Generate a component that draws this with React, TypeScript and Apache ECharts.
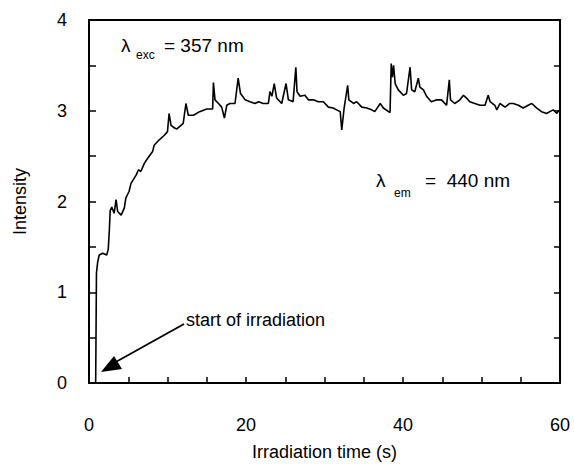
import React, { useEffect, useRef } from "react";
import * as echarts from "echarts";

const times: number[] = [
  0, 0.85, 0.9, 0.95, 1.1, 1.3, 1.75, 2.25, 2.45, 2.6, 2.7, 2.9, 3.2, 3.45, 3.65, 4.1, 4.5, 4.7, 5.1, 5.35,
  6.0, 6.3, 6.6, 7.05, 7.5, 8.1, 8.3, 8.95, 9.6, 10.0, 10.2, 10.45, 10.9, 11.2, 12.0, 12.35, 12.65, 13.3, 14.1, 15.0,
  15.75, 15.85, 16.05, 16.5, 16.9, 17.25, 17.55, 17.95, 18.6, 19.0, 19.3, 19.9, 20.5, 21.15, 21.6, 22.2, 22.85, 23.05, 23.3, 23.6,
  23.9, 24.55, 25.1, 25.4, 26.0, 26.35, 26.5, 26.9, 27.5, 27.95, 28.6, 29.2, 29.85, 30.5, 31.1, 31.55, 32.0, 32.2, 32.5, 32.95,
  33.1, 33.7, 34.1, 34.75, 35.4, 36.0, 36.4, 37.1, 37.5, 38.35, 38.5, 38.65, 38.8, 39.0, 39.4, 40.05, 40.45, 40.9, 41.1, 41.5,
  41.95, 42.15, 42.6, 43.0, 43.6, 44.3, 44.9, 45.55, 45.9, 46.05, 46.6, 47.25, 47.7, 48.1, 48.5, 49.15, 49.8, 50.45, 50.85, 51.1,
  51.7, 51.95, 52.35, 53.0, 53.6, 54.05, 54.7, 55.3, 55.95, 56.4, 57.05, 57.65, 58.3, 58.7, 59.15, 59.6, 59.8, 60,
];

const intensity: number[] = [
  0, 0, 0.6, 1.21, 1.33, 1.41, 1.43, 1.41, 1.47, 1.7, 1.9, 1.94, 1.87, 2.02, 1.89, 1.85, 1.93, 2.04, 2.11, 2.2,
  2.29, 2.35, 2.33, 2.42, 2.48, 2.55, 2.62, 2.68, 2.73, 2.77, 2.97, 2.84, 2.81, 2.8, 2.86, 3.08, 2.95, 2.95, 2.99, 3.02,
  3.02, 3.31, 3.12, 3.08, 3.04, 2.92, 3.06, 3.08, 3.08, 3.36, 3.19, 3.12, 3.1, 3.08, 3.1, 3.08, 3.08, 3.21, 3.16, 3.3,
  3.14, 3.08, 3.3, 3.12, 3.1, 3.48, 3.21, 3.16, 3.17, 3.12, 3.12, 3.1, 3.1, 3.04, 3.03, 3.01, 2.99, 2.79, 3.03, 3.28,
  3.12, 3.08, 3.1, 3.04, 3.03, 3.01, 2.99, 3.08, 3.03, 2.98, 3.52, 3.37, 3.5, 3.3, 3.23, 3.17, 3.19, 3.48, 3.23, 3.21,
  3.36, 3.26, 3.23, 3.16, 3.1, 3.12, 3.12, 3.06, 3.34, 3.12, 3.08, 3.12, 3.17, 3.14, 3.1, 3.08, 3.06, 3.06, 3.17, 3.1,
  3.06, 3.01, 3.08, 3.04, 3.08, 3.08, 3.06, 3.03, 3.06, 3.08, 3.03, 2.99, 2.97, 2.99, 3.01, 2.97, 3.0, 3.0,
];

const xLabeledTicks: number[] = [0, 20, 40, 60];
const yLabeledTicks: number[] = [0, 1, 2, 3, 4];

const FONT = "'Liberation Sans', Arial, Helvetica, sans-serif";

export default function App() {
  const ref = useRef<HTMLDivElement>(null);
  useEffect(() => {
    if (!ref.current) return;
    const chart = echarts.init(ref.current, undefined, { renderer: "svg" });
    const data = times.map((t, i) => [t, intensity[i]]);
    const txt = (x: number, y: number, text: string, size: number, align = "left") => ({
      type: "text",
      x,
      y,
      style: { text, fill: "#000", font: `${size}px ${FONT}`, textAlign: align, textVerticalAlign: "middle" },
    });
    chart.setOption({
      animation: false,
      backgroundColor: "#fff",
      grid: { left: 89, top: 20, right: 14, bottom: 86 },
      xAxis: [
        {
          type: "value",
          min: 0,
          max: 60,
          interval: 5,
          position: "bottom",
          name: "Irradiation time (s)",
          nameLocation: "middle",
          nameGap: 60,
          nameTextStyle: { fontSize: 18, color: "#000", fontFamily: FONT },
          axisLine: { onZero: false, lineStyle: { color: "#000", width: 2 } },
          axisTick: { inside: true, length: 6, lineStyle: { color: "#000", width: 1.5 } },
          axisLabel: {
            margin: 33,
            fontSize: 18,
            color: "#000",
            fontFamily: FONT,
            formatter: (v: number) => (xLabeledTicks.includes(v) ? String(v) : ""),
          },
          splitLine: { show: false },
        },
        {
          type: "value",
          min: 0,
          max: 60,
          position: "top",
          axisLine: { show: true, onZero: false, lineStyle: { color: "#000", width: 2 } },
          axisTick: { show: false },
          axisLabel: { show: false },
          splitLine: { show: false },
        },
      ],
      yAxis: [
        {
          type: "value",
          min: 0,
          max: 4,
          interval: 0.5,
          position: "left",
          name: "Intensity",
          nameLocation: "middle",
          nameGap: 60,
          nameTextStyle: { fontSize: 18, color: "#000", fontFamily: FONT },
          axisLine: { show: true, onZero: false, lineStyle: { color: "#000", width: 2 } },
          axisTick: { show: true, inside: true, length: 7, lineStyle: { color: "#000", width: 1.5 } },
          axisLabel: {
            margin: 22,
            fontSize: 18,
            color: "#000",
            fontFamily: FONT,
            formatter: (v: number) => (yLabeledTicks.includes(v) ? String(v) : ""),
          },
          splitLine: { show: false },
        },
        {
          type: "value",
          min: 0,
          max: 4,
          interval: 0.5,
          position: "right",
          axisLine: { show: true, onZero: false, lineStyle: { color: "#000", width: 2 } },
          axisTick: { show: true, inside: true, length: 6, lineStyle: { color: "#000", width: 1.5 } },
          axisLabel: { show: false },
          splitLine: { show: false },
        },
      ],
      series: [
        {
          type: "line",
          data,
          xAxisIndex: 0,
          yAxisIndex: 0,
          showSymbol: false,
          symbol: "none",
          lineStyle: { color: "#000", width: 1.6 },
        },
      ],
      graphic: [
        txt(121, 45, "λ", 19),
        txt(136, 55, "exc", 12),
        txt(164, 45, "= 357 nm", 19),
        txt(376, 180, "λ", 19),
        txt(394, 193, "em", 12),
        txt(425, 180, "=  440 nm", 19),
        txt(186, 320, "start of irradiation", 18),
        {
          type: "line",
          shape: { x1: 184, y1: 324, x2: 114, y2: 363 },
          style: { stroke: "#000", lineWidth: 1.8 },
        },
        {
          type: "polygon",
          shape: { points: [[101, 372], [114, 356], [122, 369]] },
          style: { fill: "#000" },
        },
      ],
    });
    return () => chart.dispose();
  }, []);
  return <div ref={ref} style={{ position: "fixed", left: 0, top: 0, width: 574, height: 469 }} />;
}
